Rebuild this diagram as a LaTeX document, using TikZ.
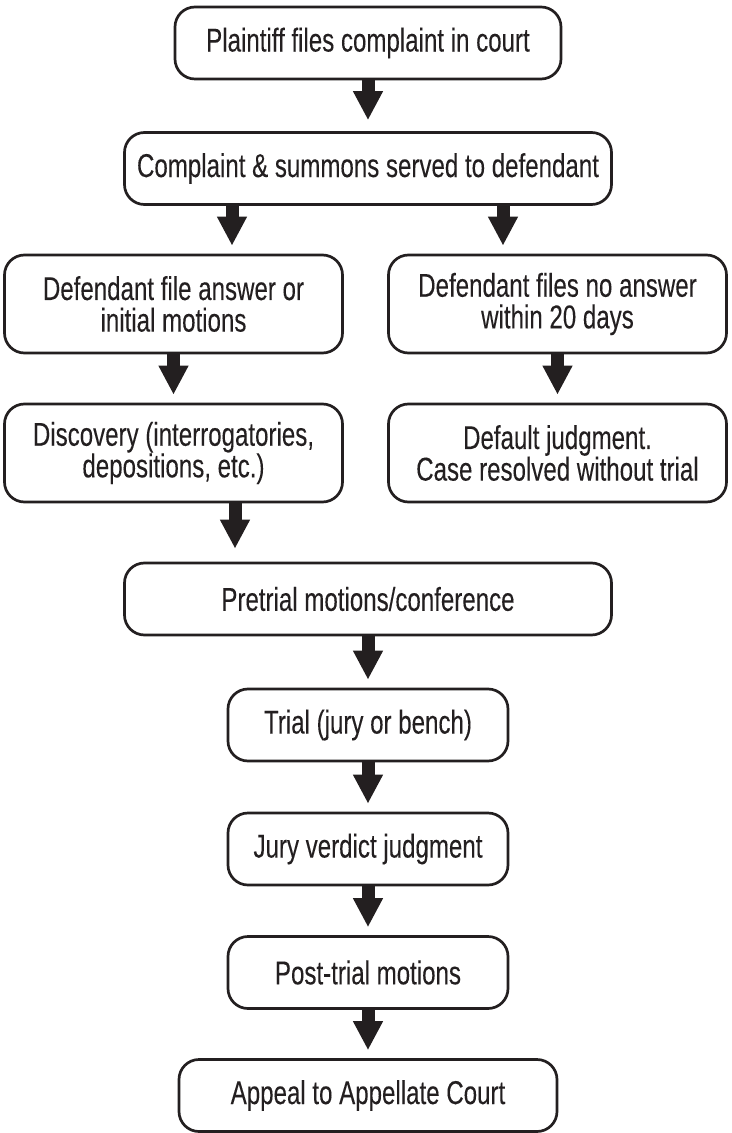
\documentclass[tikz,border=0pt]{standalone}
\usepackage{fontspec}
\setmainfont{Liberation Sans}[FakeStretch=0.73, FakeBold=0.15]
\usepackage{tikz}
\usetikzlibrary{arrows.meta}
\definecolor{ink}{HTML}{231F20}
\tikzset{%
  >={Triangle[width=14pt,length=14.5pt]},
  % Looks of the boxes:
            base/.style = {rectangle, rounded corners=10pt, draw=ink, line width=1.35pt,
                           minimum height=36pt, text centered, align=center, text=ink,
                           font=\fontsize{16.5}{15.8}\selectfont},
  boxTop/.style   = {base, minimum width=193pt},
  boxWide/.style  = {base, minimum width=243.5pt},
  boxSide/.style  = {base, minimum width=169pt, minimum height=49pt},
  boxSmall/.style = {base, minimum width=140pt},
  boxLast/.style  = {base, minimum width=189pt},
  flow/.style     = {->, draw=ink, line width=6.5pt, shorten >=4pt},
}
\begin{document}
\begin{tikzpicture}[node distance=62pt]
  \useasboundingbox (-184pt,21.5pt) rectangle (182pt,-545pt);

  % Boxes, one below the other
  \node (onPlaintiff) [boxTop]                                                 {Plaintiff files complaint in court};
  \node (onComplaint) [boxWide, below of=onPlaintiff, yshift=-0.75pt]          {Complaint \& summons served to defendant};
  \node (onAnswer)    [boxSide, below of=onComplaint, xshift=-97.25pt, yshift=-5.75pt] {Defendant file answer or\\initial motions};
  \node (onNoAnswer)  [boxSide, below of=onComplaint, xshift=94.75pt, yshift=-5.75pt]  {Defendant files no answer\\within 20 days};
  \node (onDiscovery) [boxSide, below of=onAnswer, yshift=-12.5pt]             {Discovery (interrogatories,\\depositions, etc.)};
  \node (onDefault)   [boxSide, below of=onNoAnswer, yshift=-12.5pt]           {Default judgment.\\Case resolved without trial};
  \node (onPretrial)  [boxWide, below of=onDiscovery, xshift=97.25pt, yshift=-11pt] {Pretrial motions/conference};
  \node (onTrial)     [boxSmall, below of=onPretrial, yshift=-1pt]             {Trial (jury or bench)};
  \node (onVerdict)   [boxSmall, below of=onTrial]                             {Jury verdict judgment};
  \node (onPostTrial) [boxSmall, below of=onVerdict, yshift=0.25pt]            {Post-trial motions};
  \node (onAppeal)    [boxLast, below of=onPostTrial, yshift=0.5pt]            {Appeal to Appellate Court};

  % Thick arrows between the boxes
  \draw[flow, shorten >=5.5pt] (onPlaintiff) -- (onComplaint);
  \draw[flow] ([xshift=29.25pt]onAnswer.north |- onComplaint.south) -- ([xshift=29.25pt]onAnswer.north);
  \draw[flow] ([xshift=-27.25pt]onNoAnswer.north |- onComplaint.south) -- ([xshift=-27.25pt]onNoAnswer.north);
  \draw[flow] (onAnswer) -- (onDiscovery);
  \draw[flow] (onNoAnswer) -- (onDefault);
  \draw[flow, shorten >=6.5pt] ([xshift=30.75pt]onDiscovery.south) -- ([xshift=30.75pt]onDiscovery.south |- onPretrial.north);
  \draw[flow] (onPretrial) -- (onTrial);
  \draw[flow] (onTrial) -- (onVerdict);
  \draw[flow] (onVerdict) -- (onPostTrial);
  \draw[flow] (onPostTrial) -- (onAppeal);
\end{tikzpicture}
\end{document}
